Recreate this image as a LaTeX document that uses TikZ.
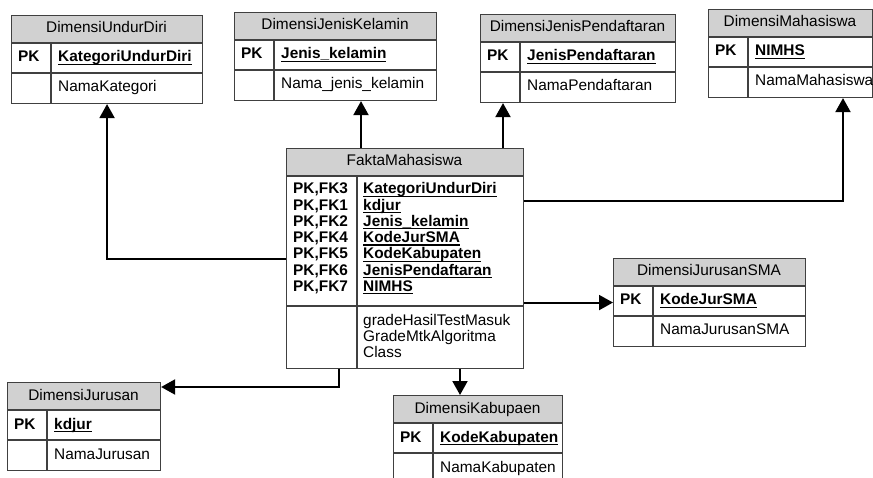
\documentclass[tikz,border=0pt]{standalone}
\usepackage{fontspec}
\setmainfont{Liberation Sans}
\usetikzlibrary{arrows.meta}
\tikzset{
  tborder/.style={draw=black!75, line width=1.1pt},
  hdr/.style={fill=black!18},
  conn/.style={draw=black, line width=2pt, -{Triangle[length=14pt,width=15pt]}},
  txt/.style={inner sep=0pt, anchor=base west, font=\fontsize{15.4}{16}\selectfont},
  ttl/.style={inner sep=0pt, anchor=base, font=\fontsize{15.4}{16}\selectfont},
}
\newcommand\keyul[1]{\setbox0\hbox{#1}\rlap{\rule[-3pt]{\wd0}{1.4pt}}\box0}
% name, x, y, width, title, key, attribute
\newcommand\dimtab[7]{%
  \fill[hdr] (#2,#3) rectangle ++(#4,28);
  \node[tborder, rectangle, inner sep=0pt, minimum width=#4pt, minimum height=88pt, anchor=north west] (#1) at (#2,#3) {};
  \draw[tborder] (#2,#3+28) -- ++(#4,0) (#2,#3+58) -- ++(#4,0) (#2+40,#3+28) -- (#2+40,#3+88);
  \node[ttl] (#1-t) at (#2+#4/2,#3+18) {#5};
  \node[txt] (#1-pk) at (#2+7,#3+47) {\bfseries PK};
  \node[txt] (#1-k) at (#2+47,#3+47) {\bfseries\keyul{#6}};
  \node[txt] (#1-a) at (#2+47,#3+77) {#7};
}
\begin{document}
\begin{tikzpicture}[x=1pt, y=-1pt]
\useasboundingbox (0,0) rectangle (873,478);
\fill[white] (0,0) rectangle (873,478);

\dimtab{undur}{11}{15}{191}{DimensiUndurDiri}{KategoriUndurDiri}{NamaKategori}
\dimtab{kelamin}{234}{12}{202}{DimensiJenisKelamin}{Jenis\_kelamin}{Nama\_jenis\_kelamin}
\dimtab{pend}{480}{14}{195}{DimensiJenisPendaftaran}{JenisPendaftaran}{NamaPendaftaran}
\dimtab{mhs}{708}{9}{164}{DimensiMahasiswa}{NIMHS}{NamaMahasiswa}
\dimtab{sma}{613}{258}{192}{DimensiJurusanSMA}{KodeJurSMA}{NamaJurusanSMA}
\dimtab{jur}{7}{382}{153}{DimensiJurusan}{kdjur}{NamaJurusan}
\dimtab{kab}{393}{395}{169}{DimensiKabupaen}{KodeKabupaten}{NamaKabupaten}

% fact table
\fill[hdr] (286,148) rectangle (523,176);
\node[tborder, rectangle, inner sep=0pt, minimum width=237pt, minimum height=220pt, anchor=north west] (fakta) at (286,148) {};
\draw[tborder] (286,176) -- (523,176) (286,306) -- (523,306) (357,176) -- (357,368);
\node[ttl] (fakta-t) at (404.5,166) {FaktaMahasiswa};
\foreach \lab/\fld [count=\i] in {{PK,FK3}/KategoriUndurDiri, {PK,FK1}/kdjur, {PK,FK2}/Jenis\_kelamin, {PK,FK4}/KodeJurSMA, {PK,FK5}/KodeKabupaten, {PK,FK6}/JenisPendaftaran, {PK,FK7}/NIMHS}{
  \node[txt] (fpk\i) at (293,194+16.25*\i-16.25) {\bfseries\lab};
  \node[txt] (fk\i) at (363,194+16.25*\i-16.25) {\bfseries\keyul{\fld}};
}
\node[txt] (fa1) at (363,326) {gradeHasilTestMasuk};
\node[txt] (fa2) at (363,341.5) {GradeMtkAlgoritma};
\node[txt] (fa3) at (363,357) {Class};

% connector guide coordinates
\coordinate (xkel) at (361,0);
\coordinate (xpend) at (503,0);
\coordinate (xmhs) at (843,0);
\coordinate (ymhs) at (0,201);
\coordinate (xjur) at (339,0);
\coordinate (yjur) at (0,387);
\coordinate (xkab) at (460,0);

\draw[conn] (fakta.west) -| (undur.south);
\draw[conn] (fakta.north -| xkel) -- (kelamin.south -| xkel);
\draw[conn] (fakta.north -| xpend) -- (pend.south -| xpend);
\draw[conn] (fakta.east |- ymhs) -| (mhs.south -| xmhs);
\draw[conn] (fakta.east |- sma.west) -- (sma.west);
\draw[conn] (fakta.south -| xjur) |- (jur.east |- yjur);
\draw[conn] (fakta.south -| xkab) -- (kab.north -| xkab);
\end{tikzpicture}
\end{document}
